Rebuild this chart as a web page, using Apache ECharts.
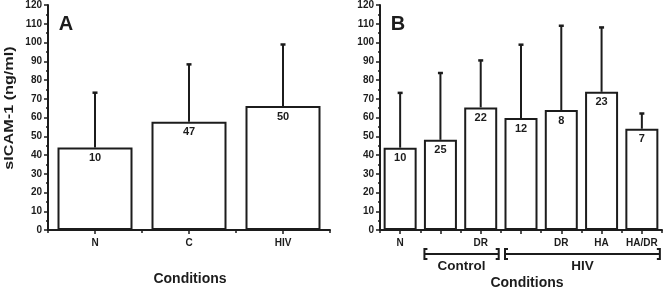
<!DOCTYPE html>
<html>
<head>
<meta charset="utf-8">
<script src="https://cdn.jsdelivr.net/npm/echarts@6/dist/echarts.min.js"></script>
<style>
  html, body { margin: 0; padding: 0; background: #fff; }
  #chart { width: 666px; height: 289px; }
</style>
</head>
<body>
<div id="chart"></div>
<script>
  // panel A
  const catsA = ['N', 'C', 'HIV']
  const meanA = [44, 57.8, 66.1]
  const errA = [73.5, 88.6, 99.2]
  const nA = [10, 47, 50]
  // panel B
  const catsB = ['N', '', 'DR', '', 'DR', 'HA', 'HA/DR']
  const meanB = [43.9, 48.1, 65.4, 59.7, 64.0, 73.7, 54.0]
  const errB = [73.4, 84.0, 90.7, 99.1, 109.2, 108.3, 62.4]
  const nB = [10, 25, 22, 12, 8, 23, 7]
  const groupsB = [
    {name: 'Control', from: 1, to: 2},
    {name: 'HIV', from: 3, to: 6}
  ]
  const yMin = 0, yMax = 120, yStep = 10

  const ink = '#1c1c1c'
  const font = "'Liberation Sans', Arial, sans-serif"

  const chart = echarts.init(document.getElementById('chart'))

  function yAxis(gridIndex) {
    return {
      type: 'value',
      gridIndex: gridIndex,
      min: yMin,
      max: yMax,
      interval: yStep,
      axisLine: {show: true, lineStyle: {color: ink, width: 2}},
      axisTick: {show: true, length: 4, lineStyle: {color: ink, width: 1.5}},
      minorTick: {show: true, splitNumber: 2, length: 2, lineStyle: {color: ink, width: 1.5}},
      splitLine: {show: false},
      axisLabel: {color: ink, fontSize: 10, fontWeight: 'bold', fontFamily: font, margin: 6}
    }
  }

  function xAxes(gridIndex, cats) {
    return [
      {
        type: 'category',
        gridIndex: gridIndex,
        position: 'bottom',
        data: cats,
        axisLine: {lineStyle: {color: ink, width: 2}},
        axisTick: {show: true, alignWithLabel: true, length: 4, lineStyle: {color: ink, width: 1.5}},
        axisLabel: {color: ink, fontSize: 10, fontWeight: 'bold', fontFamily: font, margin: 8, interval: 0}
      },
      {
        type: 'category',
        gridIndex: gridIndex,
        position: 'bottom',
        data: cats,
        axisLine: {show: false},
        axisTick: {show: true, length: 3, interval: 0, lineStyle: {color: ink, width: 1.5}},
        axisLabel: {show: false}
      }
    ]
  }

  function barSeries(xi, yi, means, ns, width) {
    return {
      type: 'bar',
      xAxisIndex: xi,
      yAxisIndex: yi,
      data: means,
      barWidth: width,
      itemStyle: {color: '#fff', borderColor: ink, borderWidth: 2},
      label: {
        show: true,
        position: 'insideTop',
        distance: 5,
        formatter: p => ns[p.dataIndex],
        color: ink,
        fontSize: 11,
        fontWeight: 'bold',
        fontFamily: font
      },
      z: 2
    }
  }

  function errSeries(xi, yi, means, errs) {
    return {
      type: 'custom',
      xAxisIndex: xi,
      yAxisIndex: yi,
      data: means.map((m, i) => [i, m, errs[i]]),
      renderItem: function (params, api) {
        const lo = api.coord([api.value(0), api.value(1)])
        const hi = api.coord([api.value(0), api.value(2)])
        return {
          type: 'group',
          children: [
            {type: 'line', shape: {x1: lo[0], y1: lo[1], x2: hi[0], y2: hi[1]},
              style: {stroke: ink, lineWidth: 2}},
            {type: 'line', shape: {x1: hi[0] - 2.5, y1: hi[1] + 0.5, x2: hi[0] + 2.5, y2: hi[1] + 0.5},
              style: {stroke: ink, lineWidth: 2.5}}
          ]
        }
      },
      z: 3
    }
  }

  const option = {
    backgroundColor: '#fff',
    animation: false,
    grid: [
      {left: 48, top: 3, width: 282, bottom: 59},
      {left: 380, top: 3, width: 282, bottom: 59}
    ],
    xAxis: [].concat(xAxes(0, catsA), xAxes(1, catsB)),
    yAxis: [yAxis(0), yAxis(1)],
    series: [
      barSeries(0, 0, meanA, nA, 75),
      errSeries(0, 0, meanA, errA),
      barSeries(2, 1, meanB, nB, 33),
      errSeries(2, 1, meanB, errB)
    ]
  }
  chart.setOption(option)

  // annotations: panel letters, axis titles, group brackets
  const txt = (x, y, text, size, extra) => Object.assign({
    type: 'text', x: x, y: y,
    style: {text: text, fill: ink, font: 'bold ' + size + 'px ' + font, align: 'center', verticalAlign: 'middle'}
  }, extra || {})

  const graphic = [
    txt(66, 24, 'A', 20),
    txt(398, 24, 'B', 20),
    txt(10, 108, 'sICAM-1 (ng/ml)', 12, {rotation: Math.PI / 2, scaleX: 1.35}),
    txt(190, 279, 'Conditions', 14),
    txt(527, 283, 'Conditions', 14)
  ]

  groupsB.forEach(g => {
    const x1 = chart.convertToPixel({xAxisIndex: 2}, g.from) - 16
    const x2 = chart.convertToPixel({xAxisIndex: 2}, g.to) + 18
    const y = 254
    const ls = {stroke: ink, lineWidth: 2, fill: null}
    graphic.push(
      {type: 'polyline', shape: {points: [[x1 + 3, y - 5], [x1, y - 5], [x1, y + 5], [x1 + 3, y + 5]]}, style: ls},
      {type: 'polyline', shape: {points: [[x2 - 3, y - 5], [x2, y - 5], [x2, y + 5], [x2 - 3, y + 5]]}, style: ls},
      {type: 'line', shape: {x1: x1, y1: y, x2: x2, y2: y}, style: ls},
      txt((x1 + x2) / 2, 266, g.name, 13.5)
    )
  })

  chart.setOption({graphic: graphic})
</script>
</body>
</html>
